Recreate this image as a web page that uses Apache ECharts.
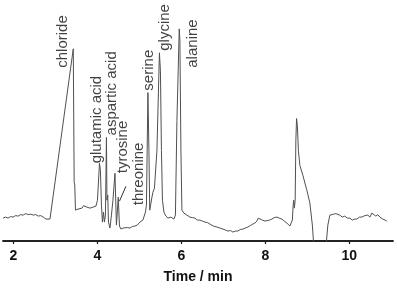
<!DOCTYPE html>
<html>
<head>
<meta charset="utf-8">
<script src="https://cdn.jsdelivr.net/npm/echarts@6/dist/echarts.min.js"></script>
<style>
html,body{margin:0;padding:0;background:#fff;}
#chart{width:397px;height:289px;}
</style>
</head>
<body>
<div id="chart"></div>
<script>
// Electropherogram trace: time (min) and detector signal (arbitrary units)
var traceTime = [
  1.750, 1.810, 1.870, 1.930, 1.990, 2.050, 2.110, 2.170, 2.230, 2.290, 2.350, 2.410,
  2.470, 2.530, 2.590, 2.650, 2.710, 2.774, 2.821, 2.869,
  3.424, 3.440, 3.445, 3.460, 3.476, 3.536, 3.580, 3.631, 3.670, 3.702, 3.750, 3.790,
  3.821, 3.860, 3.893, 3.930, 3.964,
  4.000, 4.048, 4.071, 4.095, 4.119, 4.143, 4.167, 4.190, 4.214, 4.226, 4.245, 4.262,
  4.298, 4.333, 4.369, 4.417, 4.452, 4.476, 4.495, 4.524, 4.560, 4.610, 4.655, 4.710,
  4.774, 4.830, 4.893, 4.950, 5.012, 5.083, 5.143, 5.167, 5.202, 5.226, 5.245, 5.274,
  5.298, 5.321, 5.357, 5.393, 5.417, 5.476, 5.500, 5.524, 5.548, 5.583, 5.631, 5.679,
  5.720, 5.750, 5.790, 5.821, 5.857, 5.893, 5.948, 5.964, 5.988, 6.012, 6.060, 6.100,
  6.131, 6.170, 6.202, 6.260, 6.321, 6.380, 6.440, 6.500, 6.560, 6.620, 6.679, 6.760,
  6.845, 6.920, 6.988, 7.050, 7.107, 7.170, 7.226, 7.290, 7.345, 7.400, 7.464, 7.520,
  7.583, 7.640, 7.702, 7.750, 7.798, 7.830, 7.869, 7.900, 7.940, 7.990, 8.036, 8.100,
  8.155, 8.210, 8.274, 8.330, 8.393, 8.450, 8.512, 8.583, 8.624, 8.643, 8.662, 8.674,
  8.690, 8.710, 8.726, 8.743, 8.762, 8.786, 8.821, 8.893, 8.988, 9.060, 9.119, 9.143,
  9.155, 9.440, 9.457, 9.488, 9.536, 9.583, 9.630, 9.679, 9.720, 9.774, 9.830, 9.893,
  9.950, 10.012, 10.070, 10.131, 10.179, 10.240, 10.298, 10.370, 10.440, 10.490, 10.536, 10.580,
  10.631, 10.680, 10.726, 10.760, 10.798, 10.850, 10.893, 10.950, 11.012
];
var traceSignal = [
  23, 24, 23, 24.5, 24, 25.5, 25, 26.5, 26, 27.5, 26.5, 27,
  26, 26.5, 25, 25.5, 24, 22, 21, 22,
  193, 191, 59, 56, 31, 32, 34, 33, 35.5, 35, 34, 36,
  33, 34.5, 34, 36, 35,
  41, 78, 71, 36, 19, 29, 19, 26, 104, 41, 46, 19,
  13, 26, 41, 68, 16, 31, 44, 15, 12, 13, 12, 13.5,
  13, 14.5, 15, 16, 19, 21, 29, 36, 149, 91, 31, 38,
  44, 49, 53, 51, 91, 189, 171, 91, 41, 29, 25, 23,
  24.5, 24, 22.5, 22, 26, 121, 213, 201, 91, 31, 28, 27,
  26, 24.5, 24, 23.5, 23, 21, 21, 20, 19, 18.5, 17, 15,
  14, 13, 12, 11, 10, 10.5, 9, 10, 10, 11.5, 12, 13,
  14, 15.5, 17, 18, 20, 23, 22, 21.5, 21, 20, 19, 21,
  22, 23.5, 24, 23, 22, 20, 18, 15, 13, 21, 36, 41,
  33, 41, 101, 123, 116, 91, 76, 66, 51, 38, 16, 1,
  -30, -30, 1, 16, 26, 28, 27, 27.5, 26, 26, 24, 25,
  23, 23, 21, 22, 22, 24, 24, 25.5, 26, 24, 28, 26,
  25, 26.5, 24, 22.5, 22, 21, 20
];

// Peak labels
var peakNames = ["chloride", "glutamic acid", "aspartic acid", "tyrosine", "threonine", "serine", "glycine", "alanine"];
var peakLabelTime = [3.179, 3.988, 4.345, 4.607, 4.988, 5.226, 5.607, 6.274];
var peakLabelSignal = [174, 78, 106, 68, 36, 151, 191, 174];

// Leader line for tyrosine
var leaderTime = [4.679, 4.524];
var leaderSignal = [55, 40];

var xTicks = [2, 4, 6, 8, 10];

var chart = echarts.init(document.getElementById('chart'));
var linePts = traceTime.map(function (t, i) { return [t, traceSignal[i]]; });
var labelPts = peakNames.map(function (n, i) { return { name: n, value: [peakLabelTime[i], peakLabelSignal[i]] }; });

chart.setOption({
  animation: false,
  backgroundColor: '#ffffff',
  grid: { left: 3, right: 4, top: 1, bottom: 47 },
  xAxis: {
    type: 'value',
    min: 1.75,
    max: 11.04,
    name: 'Time / min',
    nameLocation: 'middle',
    nameGap: 29,
    nameTextStyle: { fontFamily: 'Liberation Sans', fontWeight: 'bold', fontSize: 14, color: '#111' },
    axisLine: { show: true, lineStyle: { color: '#222', width: 1.8 } },
    axisTick: { show: true, inside: false, length: 3, customValues: xTicks, lineStyle: { color: '#222', width: 1.3 } },
    axisLabel: { customValues: xTicks, margin: 8, fontFamily: 'Liberation Sans', fontWeight: 'bold', fontSize: 14, color: '#111' },
    splitLine: { show: false }
  },
  yAxis: {
    type: 'value', min: 0, max: 241, show: false, splitLine: { show: false }
  },
  series: [
    {
      type: 'line',
      data: linePts,
      showSymbol: false,
      clip: true,
      lineStyle: { color: '#505050', width: 1 }
    },
    {
      type: 'scatter',
      data: labelPts,
      symbolSize: 0,
      label: {
        show: true,
        formatter: '{b}',
        position: [0, 0],
        rotate: 90,
        align: 'left',
        verticalAlign: 'middle',
        fontFamily: 'Liberation Sans',
        fontSize: 15,
        color: '#111'
      },
      markLine: {
        silent: true,
        symbol: ['none', 'none'],
        label: { show: false },
        lineStyle: { color: '#333', width: 1, type: 'solid' },
        data: [[{ coord: [leaderTime[0], leaderSignal[0]] }, { coord: [leaderTime[1], leaderSignal[1]] }]]
      }
    }
  ]
});
</script>
</body>
</html>
